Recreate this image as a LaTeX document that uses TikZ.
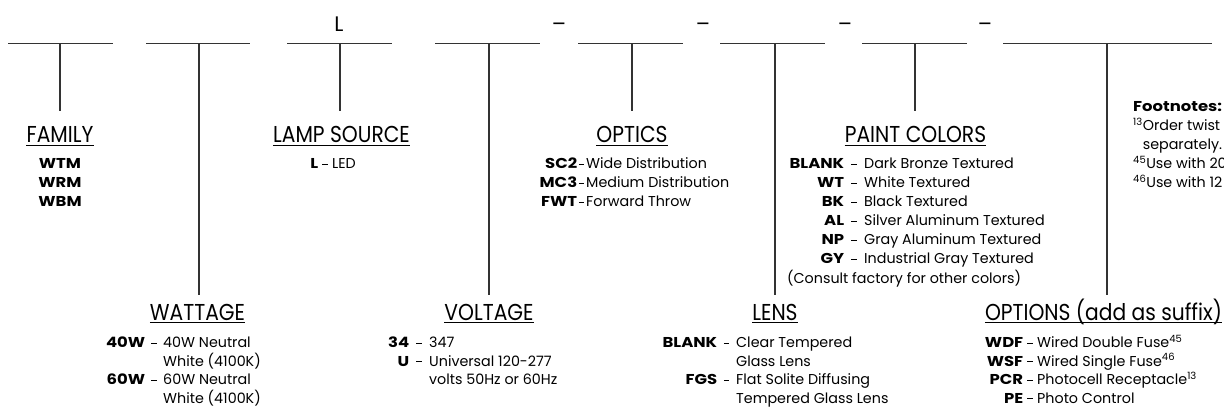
\documentclass[tikz,border=0pt]{standalone}
\usepackage{fontspec}
\setmainfont{Poppins}[BoldFeatures={FakeStretch=1.15}]
\newfontfamily\ttlfont{Poppins}[FakeStretch=0.88]
\definecolor{linec}{HTML}{333333}
\newlength\dg
\newcommand\cd[2]{\makebox[0pt][r]{\textbf{#1}\makebox[\dg]{\rule[4.2pt]{5.5pt}{0.8pt}}}#2}
\tikzset{
  seg/.style={draw=linec, line width=1.1pt},
  ul/.style={draw=black, line width=0.9pt},
  ttl/.style={inner sep=0pt, anchor=base, font=\ttlfont\fontsize{23}{27}\selectfont},
  blkU/.style={inner sep=0pt, anchor=base west, font=\fontsize{14.3}{19}\selectfont},
  blkL/.style={inner sep=0pt, anchor=base west, font=\fontsize{14.3}{18.5}\selectfont},
  sep/.style={inner sep=0pt, anchor=base, font=\fontsize{21}{25}\selectfont},
}
\begin{document}
\begin{tikzpicture}[x=1pt,y=-1pt]
\useasboundingbox (0,0) rectangle (1224,409);
% slots and stems
\foreach \i/\a/\b/\v/\e in {1/8/113/60/111, 2/146/250/199/295, 3/287/392/340/111, 4/435/540/489/295,
   5/578/683/632/111, 6/720/825/775/295, 7/862/967/915/111, 8/1003/1212/1107/295}{
  \coordinate (L\i) at (\a,43.5);
  \coordinate (R\i) at (\b,43.5);
  \coordinate (T\i) at (\v,43.5);
  \coordinate (E\i) at (\v,\e);
  \draw[seg] (L\i) -- (R\i);
  \draw[seg] (T\i) -- (E\i);
}
% fixed characters above slots
\node[sep] (cL) at (339,32) {L};
\node[sep] (d1) at (559,32) {–};
\node[sep] (d2) at (703,32) {–};
\node[sep] (d3) at (845,32) {–};
\node[sep] (d4) at (985,32) {–};
% titles
\node[ttl] (tFam) at (60,143) {FAMILY};
\node[ttl] (tLamp) at (341.5,143) {LAMP SOURCE};
\node[ttl] (tOpt) at (632,143) {OPTICS};
\node[ttl] (tPaint) at (915.5,143) {PAINT COLORS};
\node[ttl] (tWatt) at (197.5,320) {WATTAGE};
\node[ttl] (tVolt) at (489,320) {VOLTAGE};
\node[ttl] (tLens) at (775,320) {LENS};
\node[ttl] (tOpts) at (1103.5,320) {OPTIONS (add as suffix)};
\foreach \t in {tFam,tLamp,tOpt,tPaint,tWatt,tVolt,tLens,tOpts}{
  \draw[ul] ([yshift=-2.5pt]\t.base west) -- ([yshift=-2.5pt]\t.base east);
}
% item blocks (upper row)
\node[inner sep=0pt, anchor=base, font=\fontsize{14.3}{19}\selectfont\bfseries] (bFam) at (60,169)
  {\begin{tabular}[t]{@{}c@{}}WTM\\WRM\\WBM\end{tabular}};
\node[blkU] (bLamp) at (332,169) {\setlength\dg{14pt}\begin{tabular}[t]{@{}l@{}}\cd{L}{LED}\end{tabular}};
\node[blkU] (bOpt) at (586,169) {\setlength\dg{9pt}\begin{tabular}[t]{@{}l@{}}
  \cd{SC2}{Wide Distribution}\\
  \cd{MC3}{Medium Distribution}\\
  \cd{FWT}{Forward Throw}\end{tabular}};
\node[blkU] (bPaint) at (864,169) {\setlength\dg{20pt}\begin{tabular}[t]{@{}l@{}}
  \cd{BLANK}{Dark Bronze Textured}\\
  \cd{WT}{White Textured}\\
  \cd{BK}{Black Textured}\\
  \cd{AL}{Silver Aluminum Textured}\\
  \cd{NP}{Gray Aluminum Textured}\\
  \cd{GY}{Industrial Gray Textured}\end{tabular}};
\node[blkU] (bConsult) at (787,283) {(Consult factory for other colors)};
\node[blkU] (bFoot) at (1133,112) {\begin{tabular}[t]{@{}l@{}}
  \textbf{Footnotes:}\\
  \textsuperscript{13}Order twist\\
  \phantom{\textsuperscript{13}}separately.\\
  \textsuperscript{45}Use with 20\\
  \textsuperscript{46}Use with 12\end{tabular}};
% item blocks (lower row)
\node[blkL] (bWatt) at (163,347.5) {\setlength\dg{18pt}\begin{tabular}[t]{@{}l@{}}
  \cd{40W}{40W Neutral}\\
  White (4100K)\\
  \cd{60W}{60W Neutral}\\
  White (4100K)\end{tabular}};
\node[blkL] (bVolt) at (429,347.5) {\setlength\dg{20pt}\begin{tabular}[t]{@{}l@{}}
  \cd{34}{347}\\
  \cd{U}{Universal 120-277}\\
  volts 50Hz or 60Hz\end{tabular}};
\node[blkL] (bLens) at (736,347.5) {\setlength\dg{19pt}\begin{tabular}[t]{@{}l@{}}
  \cd{BLANK}{Clear Tempered}\\
  Glass Lens\\
  \cd{FGS}{Flat Solite Diffusing}\\
  Tempered Glass Lens\end{tabular}};
\node[blkL] (bOpts) at (1037,347.5) {\setlength\dg{14pt}\begin{tabular}[t]{@{}l@{}}
  \cd{WDF}{Wired Double Fuse\textsuperscript{45}}\\
  \cd{WSF}{Wired Single Fuse\textsuperscript{46}}\\
  \cd{PCR}{Photocell Receptacle\textsuperscript{13}}\\
  \cd{PE}{Photo Control}\end{tabular}};
\end{tikzpicture}
\end{document}
